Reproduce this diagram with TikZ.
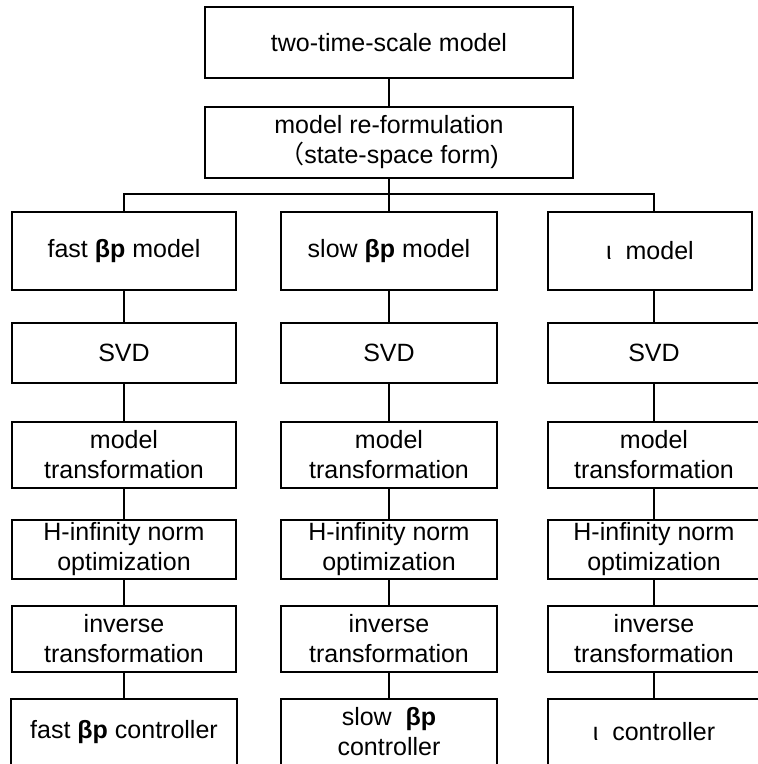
\documentclass[tikz,border=0pt]{standalone}
\usepackage{fontspec}
\setmainfont{Liberation Sans}
\newfontfamily\cjk{Noto Sans CJK SC}

\begin{document}
\begin{tikzpicture}[x=0.5pt,y=-0.5pt,-]
    \tikzstyle{stage}=[rectangle,draw=black,line width=0.65pt,fill=white,align=center,inner sep=0pt,font=\fontsize{12.5}{15}\selectfont]
    \clip (0,0) rectangle (758,764);

    \node[stage,minimum width=184pt,minimum height=35.5pt] (top) at (389,42.5) {two-time-scale model};
    \node[stage,minimum width=184pt,minimum height=35.5pt] (reform) at (389,142.5) {model re-formulation\\{\cjk （}state-space form)};
    \coordinate (bar) at (389,194);

    \node[stage,minimum width=112pt,minimum height=39pt] (M-F) at (124,251) {fast \textbf{βp} model};
    \node[stage,minimum width=108pt,minimum height=39pt] (M-S) at (389,251) {slow \textbf{βp} model};
    \node[stage,minimum width=102pt,minimum height=39pt] (M-I) at (650,251) {ι\ \ model};

    \foreach \col/\x/\w in {F/124/112, S/389/108, I/654/106} {
        \node[stage,minimum width=\w pt,minimum height=30pt] (SVD-\col) at (\x,353) {SVD};
        \node[stage,minimum width=\w pt,minimum height=33pt] (MT-\col) at (\x,455) {model\\transformation};
        \node[stage,minimum width=\w pt,minimum height=29.5pt] (HI-\col) at (\x,549.5) {H-infinity norm\\optimization};
        \node[stage,minimum width=\w pt,minimum height=33pt] (IT-\col) at (\x,639) {inverse\\transformation};
    }

    \node[stage,minimum width=113pt,minimum height=33pt] (C-F) at (124,732) {fast \textbf{βp} controller};
    \node[stage,minimum width=108pt,minimum height=33pt] (C-S) at (389,732) {slow\ \ \textbf{βp}\\controller};
    \node[stage,minimum width=106pt,minimum height=33pt] (C-I) at (654,732) {ι\ \ controller};

    \draw[line width=0.65pt] (top) -- (reform);
    \draw[line width=0.65pt] (reform) -- (bar) -- (M-S);
    \draw[line width=0.65pt] (M-F.north) |- (bar) -| (M-I.north -| SVD-I);
    \draw[line width=0.65pt] (M-F) -- (SVD-F);
    \draw[line width=0.65pt] (M-S) -- (SVD-S);
    \draw[line width=0.65pt] (SVD-I.north) -- (SVD-I.north |- M-I.south);

    \foreach \col in {F,S,I}
        \draw[line width=0.65pt] (SVD-\col) -- (MT-\col) -- (HI-\col) -- (IT-\col) -- (C-\col);
\end{tikzpicture}
\end{document}
